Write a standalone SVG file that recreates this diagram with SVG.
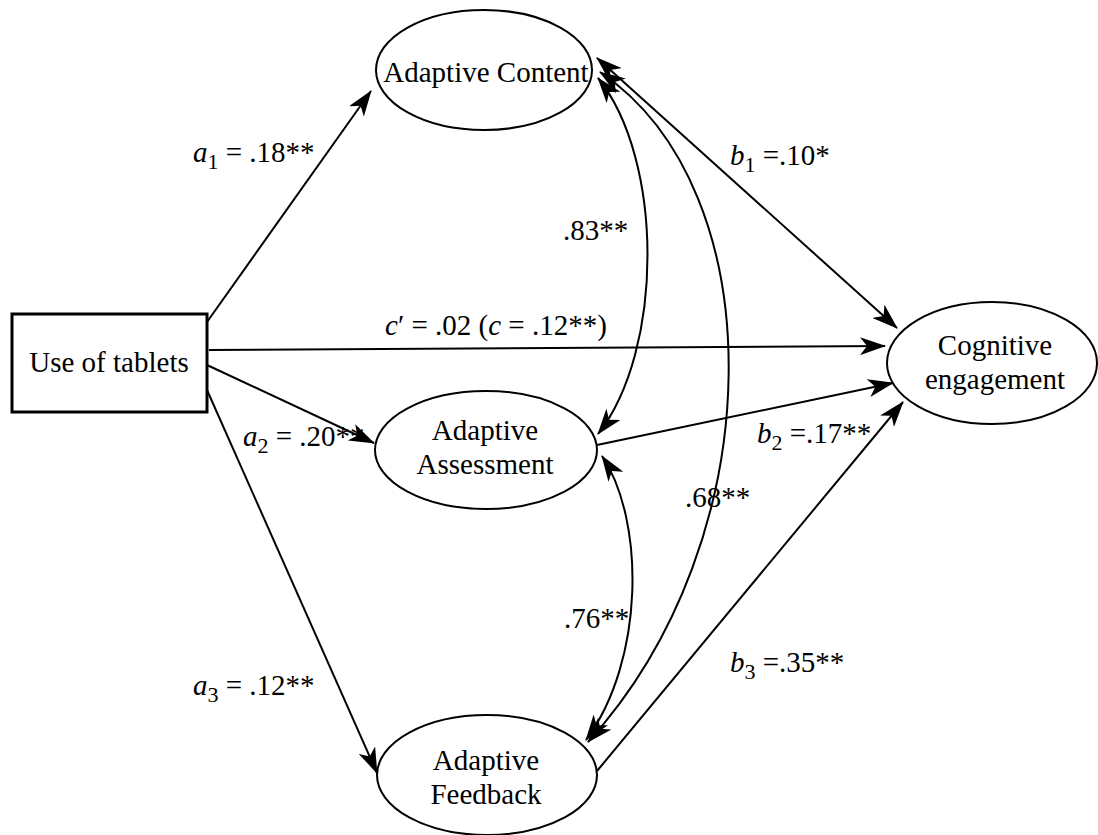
<svg xmlns="http://www.w3.org/2000/svg" width="1098" height="835" viewBox="0 0 1098 835">
<style>
text{font-family:"Liberation Serif","Times New Roman",serif;font-size:29px;fill:#000}
.node{fill:#fff;stroke:#000;stroke-width:2}
.box{fill:#fff;stroke:#000;stroke-width:3}
.c{text-anchor:middle}
.e{stroke:#000;stroke-width:2;fill:none}
.i{font-style:italic}
.s{font-size:22px}
</style>
<defs>
<marker id="ah" viewBox="0 0 26 18" refX="25" refY="9" markerWidth="26" markerHeight="18" markerUnits="userSpaceOnUse" orient="auto-start-reverse">
<path d="M0,0 L26,9 L0,18 L7,9 z" fill="#000"/>
</marker>
</defs>
<rect width="1098" height="835" fill="#fff"/>
<g id="connectors">
<line class="e" x1="207" y1="322" x2="371" y2="91" marker-end="url(#ah)"/>
<line class="e" x1="209" y1="350" x2="885" y2="346" marker-end="url(#ah)"/>
<line class="e" x1="207" y1="365" x2="374" y2="443" marker-end="url(#ah)"/>
<line class="e" x1="207" y1="390" x2="377" y2="773" marker-end="url(#ah)"/>
<line class="e" x1="597" y1="58" x2="897" y2="328" marker-start="url(#ah)" marker-end="url(#ah)"/>
<line class="e" x1="597" y1="445" x2="893" y2="383" marker-end="url(#ah)"/>
<line class="e" x1="597" y1="771" x2="903" y2="402" marker-end="url(#ah)"/>
<path class="e" d="M598,78 C664,160 664,350 598,434" marker-start="url(#ah)" marker-end="url(#ah)"/>
<path class="e" d="M600,72 C775,190 772,540 588,742" marker-start="url(#ah)" marker-end="url(#ah)"/>
<path class="e" d="M602,456 C645,520 645,660 586,740" marker-start="url(#ah)" marker-end="url(#ah)"/>
</g>
<g id="use-of-tablets">
<rect class="box" x="12" y="314" width="195" height="98"/>
<text class="c" x="109" y="372">Use of tablets</text>
</g>
<g id="adaptive-content">
<ellipse class="node" cx="484" cy="70" rx="108" ry="60"/>
<text class="c" x="486" y="82">Adaptive Content</text>
</g>
<g id="adaptive-assessment">
<ellipse class="node" cx="486" cy="450" rx="111" ry="59"/>
<text class="c" x="485" y="440">Adaptive</text>
<text class="c" x="485" y="474">Assessment</text>
</g>
<g id="adaptive-feedback">
<ellipse class="node" cx="487" cy="775" rx="110" ry="60"/>
<text class="c" x="486" y="770">Adaptive</text>
<text class="c" x="486" y="804">Feedback</text>
</g>
<g id="cognitive-engagement">
<ellipse class="node" cx="992" cy="363" rx="105" ry="61"/>
<text class="c" x="995" y="355">Cognitive</text>
<text class="c" x="995" y="389">engagement</text>
</g>
<g id="labels">
<text x="193" y="162"><tspan class="i">a</tspan><tspan class="s" dy="7">1</tspan><tspan dy="-7"> = .18**</tspan></text>
<text x="385" y="335"><tspan class="i">c</tspan>′ = .02 (<tspan class="i">c</tspan> = .12**)</text>
<text x="243" y="446"><tspan class="i">a</tspan><tspan class="s" dy="7">2</tspan><tspan dy="-7"> = .20**</tspan></text>
<text x="193" y="695"><tspan class="i">a</tspan><tspan class="s" dy="7">3</tspan><tspan dy="-7"> = .12**</tspan></text>
<text x="730" y="165"><tspan class="i">b</tspan><tspan class="s" dy="7">1</tspan><tspan dy="-7"> =.10*</tspan></text>
<text x="757" y="443"><tspan class="i">b</tspan><tspan class="s" dy="7">2</tspan><tspan dy="-7"> =.17**</tspan></text>
<text x="730" y="672"><tspan class="i">b</tspan><tspan class="s" dy="7">3</tspan><tspan dy="-7"> =.35**</tspan></text>
<text x="563" y="240">.83**</text>
<text x="685" y="507">.68**</text>
<text x="564" y="628">.76**</text>
</g>
</svg>
